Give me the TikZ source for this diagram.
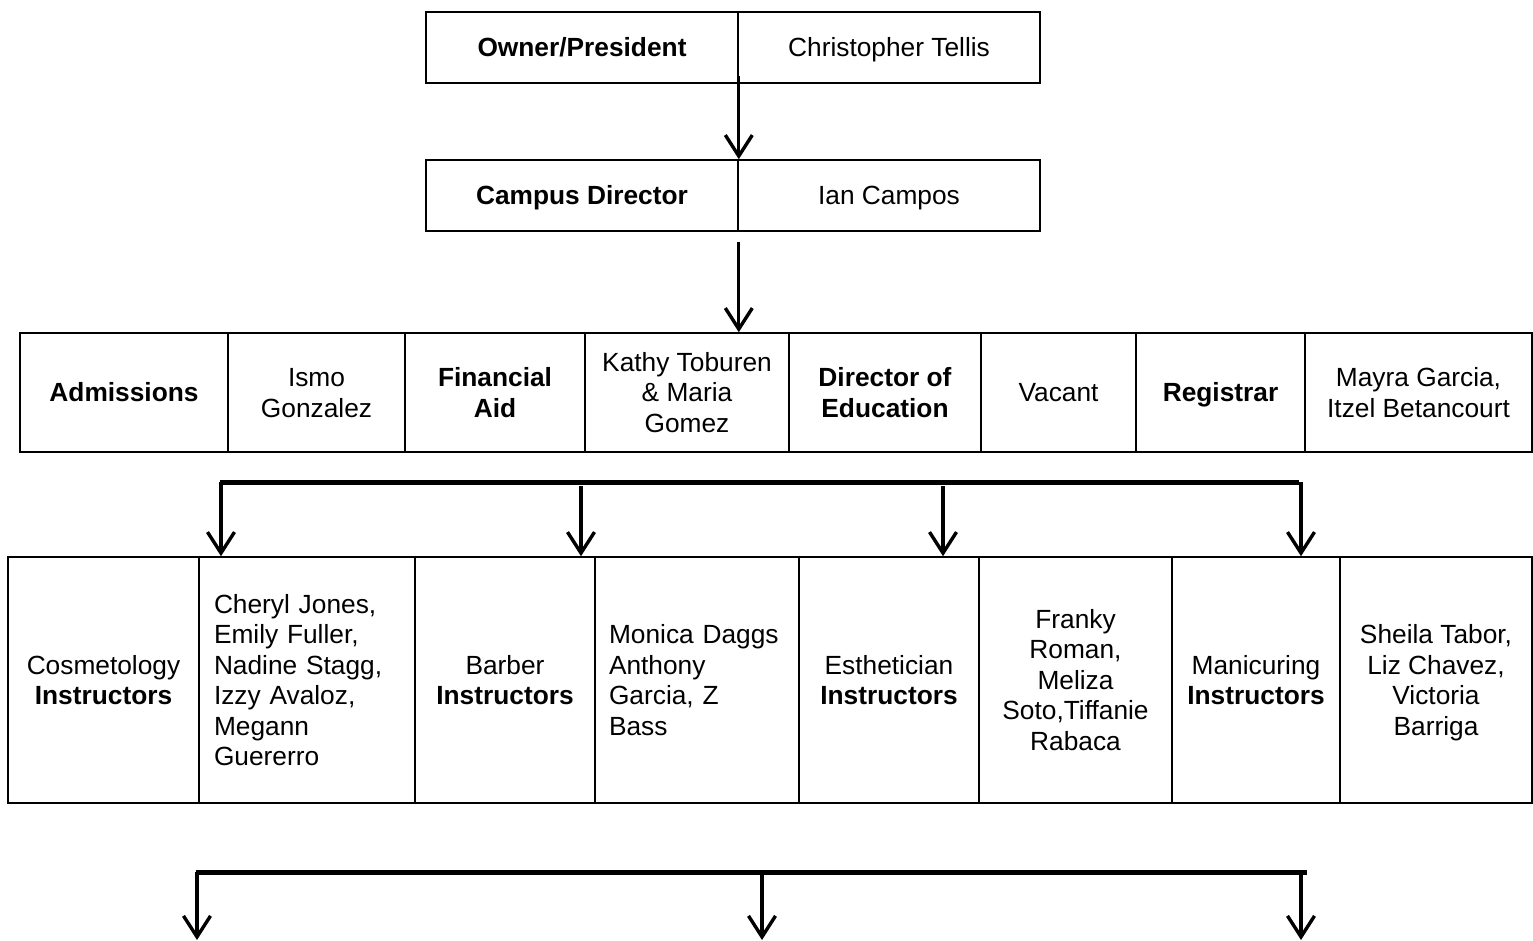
\documentclass[tikz,border=0pt]{standalone}
\usepackage{fontspec}
\setmainfont{Liberation Sans}
\usetikzlibrary{arrows.meta}
\newcommand\sx{\rule[-6pt]{0pt}{30.5pt}}
\tikzset{
  cell/.style={draw=black, line width=1.6pt, inner sep=0pt, align=center,
    font=\fontsize{26.3}{30.5}\selectfont},
  arr/.style={line width=3.2pt, -{Straight Barb[length=21pt,width=27pt,line width=3.4pt]}},
  bar/.style={line width=5pt},
}
\begin{document}
\begin{tikzpicture}[x=1pt,y=-1pt]
\useasboundingbox (0,0) rectangle (1533,940);
% row 1
\node[cell, minimum width=312, minimum height=71] (o1) at (582,47.5) {\sx\textbf{Owner/President}};
\node[cell, minimum width=302, minimum height=71] (o2) at (889,47.5) {\sx Christopher Tellis};
% row 2
\node[cell, minimum width=312, minimum height=71] (c1) at (582,195.5) {\sx\textbf{Campus Director}};
\node[cell, minimum width=302, minimum height=71] (c2) at (889,195.5) {\sx Ian Campos};
% row 3
\node[cell, minimum width=208, minimum height=119] (a1) at (124,392.5) {\sx\textbf{Admissions}};
\node[cell, minimum width=177, minimum height=119] (a2) at (316.5,392.5) {\sx Ismo\\\sx Gonzalez};
\node[cell, minimum width=180, minimum height=119] (a3) at (495,392.5) {\sx\textbf{Financial}\\\sx\textbf{Aid}};
\node[cell, minimum width=204, minimum height=119] (a4) at (687,392.5) {\sx Kathy Toburen\\\sx\& Maria\\\sx Gomez};
\node[cell, minimum width=192, minimum height=119] (a5) at (885,392.5) {\sx\textbf{Director of}\\\sx\textbf{Education}};
\node[cell, minimum width=155, minimum height=119] (a6) at (1058.5,392.5) {\sx Vacant};
\node[cell, minimum width=169, minimum height=119] (a7) at (1220.5,392.5) {\sx\textbf{Registrar}};
\node[cell, minimum width=227, minimum height=119] (a8) at (1418.5,392.5) {\sx Mayra Garcia,\\\sx Itzel Betancourt};
% row 4
\node[cell, minimum width=191, minimum height=246] (b1) at (103.5,680) {\sx Cosmetology\\\sx\textbf{Instructors}};
\node[cell, minimum width=216, minimum height=246, text width=186, align=left] (b2) at (307,680) {\sx Cheryl Jones,\\\sx Emily Fuller,\\\sx Nadine Stagg,\\\sx Izzy Avaloz,\\\sx Megann\\\sx Guererro};
\node[cell, minimum width=180, minimum height=246] (b3) at (505,680) {\sx Barber\\\sx\textbf{Instructors}};
\node[cell, minimum width=204, minimum height=246, text width=176, align=left] (b4) at (697,680) {\sx Monica Daggs\\\sx Anthony\\\sx Garcia, Z\\\sx Bass};
\node[cell, minimum width=180, minimum height=246] (b5) at (889,680) {\sx Esthetician\\\sx\textbf{Instructors}};
\node[cell, minimum width=193, minimum height=246] (b6) at (1075.5,680) {\sx Franky\\\sx Roman,\\\sx Meliza\\\sx Soto,Tiffanie\\\sx Rabaca};
\node[cell, minimum width=168, minimum height=246] (b7) at (1256,680) {\sx Manicuring\\\sx\textbf{Instructors}};
\node[cell, minimum width=192, minimum height=246] (b8) at (1436,680) {\sx Sheila Tabor,\\\sx Liz Chavez,\\\sx Victoria\\\sx Barriga};
% connectors
\draw[arr] ([yshift=8pt]o1.south east) -- (c1.north east);
\draw[arr] ([yshift=-10pt]c1.south east) -- (c1.south east |- a4.north);
% bar to row 4
\coordinate (p1) at (221,482);
\coordinate (p2) at (581,486);
\coordinate (p3) at (943,486);
\coordinate (p4) at (1301,482);
\draw[bar] ([xshift=-1.5pt]p1) -- ([xshift=-2pt]p4);
\draw[arr] (p1) -- (p1 |- b2.north);
\draw[arr] (p2) -- (p2 |- b3.north);
\draw[arr] (p3) -- (p3 |- b5.north);
\draw[arr] (p4) -- (p4 |- b7.north);
% bottom bar
\coordinate (q1) at (197,872);
\coordinate (q2) at (762,874);
\coordinate (q3) at (1301,872);
\coordinate (e1) at (197,940);
\coordinate (e2) at (762,940);
\coordinate (e3) at (1301,940);
\draw[bar] ([xshift=-1.5pt]q1) -- ([xshift=6pt]q3);
\draw[arr] (q1) -- (e1);
\draw[arr] (q2) -- (e2);
\draw[arr] (q3) -- (e3);
\end{tikzpicture}
\end{document}
